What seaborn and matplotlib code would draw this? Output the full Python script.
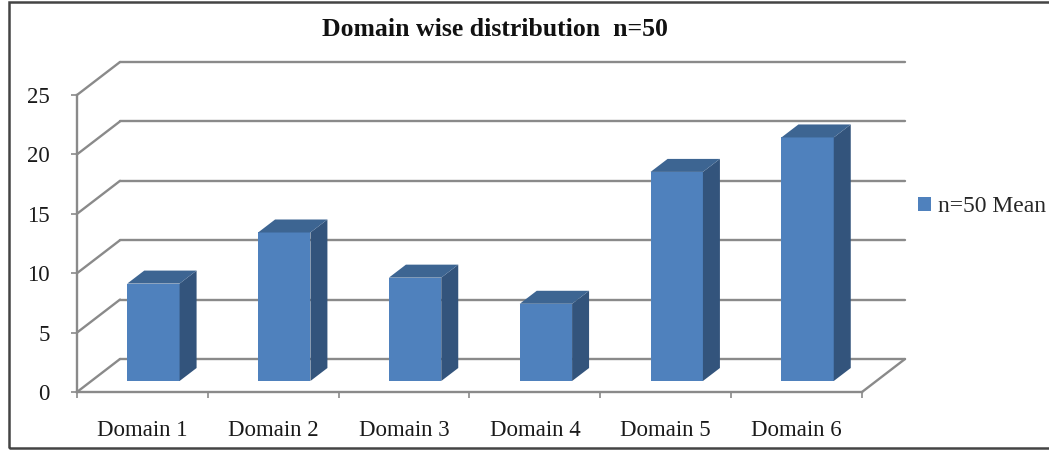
import matplotlib
matplotlib.use("Agg")
import matplotlib.pyplot as plt
import seaborn as sns
from matplotlib.patches import Polygon, Patch, Rectangle
from matplotlib.transforms import ScaledTranslation

domains = ["Domain 1", "Domain 2", "Domain 3", "Domain 4", "Domain 5", "Domain 6"]
means = [8.2, 12.5, 8.7, 6.5, 17.6, 20.5]
series_label = "n=50 Mean"
title = "Domain wise distribution  n=50"
yticks = [0, 5, 10, 15, 20, 25]

front_col = "#4f81bd"
side_col = "#33547c"
top_col = "#3d6592"
grid_col = "#8a8a8a"

sns.set_style("white")
plt.rcParams["font.family"] = ["Liberation Serif", "DejaVu Serif"]

W, H = 1049, 450
fig = plt.figure(figsize=(W / 100, H / 100), dpi=100)

# front plane of the 3d box (pixel positions in the picture)
x0, x1, ybot, ytop = 77, 862, 392, 95
ax = fig.add_axes([x0 / W, 1 - ybot / H, (x1 - x0) / W, (ybot - ytop) / H])

sns.barplot(x=domains, y=means, color=front_col, saturation=1, width=0.4,
            ax=ax, zorder=3)
ax.set_xlim(-0.5, len(domains) - 0.5)
ax.set_ylim(0, 25)

px_x = (x1 - x0) / len(domains)   # pixels per category
px_y = (ybot - ytop) / 25         # pixels per unit

# walls: back offset and bar depth in pixels
wall_dx, wall_dy = 43 / px_x, 33 / px_y
bar_dx, bar_dy = 17 / px_x, 13 / px_y
shift = ax.transData + ScaledTranslation(11 / 100, 11 / 100, fig.dpi_scale_trans)

lw = 1.7
xl, xr = -0.5, len(domains) - 0.5
for v in yticks:
    ax.plot([xl + wall_dx, xr + wall_dx], [v + wall_dy, v + wall_dy],
            color=grid_col, lw=lw, zorder=1, clip_on=False)
    ax.plot([xl, xl + wall_dx], [v, v + wall_dy],
            color=grid_col, lw=lw, zorder=1, clip_on=False)
ax.plot([xr, xr + wall_dx], [0, wall_dy], color=grid_col, lw=lw, zorder=1,
        clip_on=False)

for p in ax.patches:
    p.set_transform(shift)
    p.set_clip_on(False)
    p.set_edgecolor("none")
    bx, bw, bh = p.get_x(), p.get_width(), p.get_height()
    side = Polygon([(bx + bw, 0), (bx + bw, bh), (bx + bw + bar_dx, bh + bar_dy),
                    (bx + bw + bar_dx, bar_dy)], closed=True, facecolor=side_col,
                   edgecolor="none", transform=shift, clip_on=False, zorder=3)
    top = Polygon([(bx, bh), (bx + bw, bh), (bx + bw + bar_dx, bh + bar_dy),
                   (bx + bar_dx, bh + bar_dy)], closed=True, facecolor=top_col,
                  edgecolor="none", transform=shift, clip_on=False, zorder=3)
    ax.add_patch(side)
    ax.add_patch(top)

for s in ["top", "right"]:
    ax.spines[s].set_visible(False)
for s in ["left", "bottom"]:
    ax.spines[s].set_color(grid_col)
    ax.spines[s].set_linewidth(lw)
    ax.spines[s].set_zorder(1)

ax.set_yticks(yticks)
ax.set_xticks([i - 0.5 for i in range(len(domains) + 1)], minor=True)
ax.tick_params(axis="x", which="major", length=0, pad=20, labelsize=16.5,
               labelcolor="#1a1a1a")
ax.tick_params(axis="x", which="minor", length=4.5, width=1.2, color=grid_col,
               direction="out", bottom=True)
ax.tick_params(axis="y", length=4.5, width=1.2, color=grid_col, direction="out",
               left=True, pad=15, labelsize=16.5, labelcolor="#1a1a1a")
ax.set_xlabel("")
ax.set_ylabel("")
ax.patch.set_alpha(0)

fig.text(495 / W, 1 - 30 / H, title, ha="center", va="center",
         fontsize=18.5, fontweight="bold", color="#111111")

handle = Patch(facecolor=front_col, edgecolor="none")
fig.legend([handle], [series_label], loc="center left",
           bbox_to_anchor=(918 / W, 1 - 207 / H), frameon=False,
           handlelength=0.55, handleheight=0.55, handletextpad=0.3,
           borderpad=0, borderaxespad=0, fontsize=17)

# outer frame, cut off on the right as in the source image
fig.patches.append(Rectangle((8.5 / W, 2 / H), 1.2, 446.5 / H,
                             transform=fig.transFigure, fill=False,
                             edgecolor="#444444", lw=1.8))

fig.savefig("out.png", dpi=100, facecolor="white")
